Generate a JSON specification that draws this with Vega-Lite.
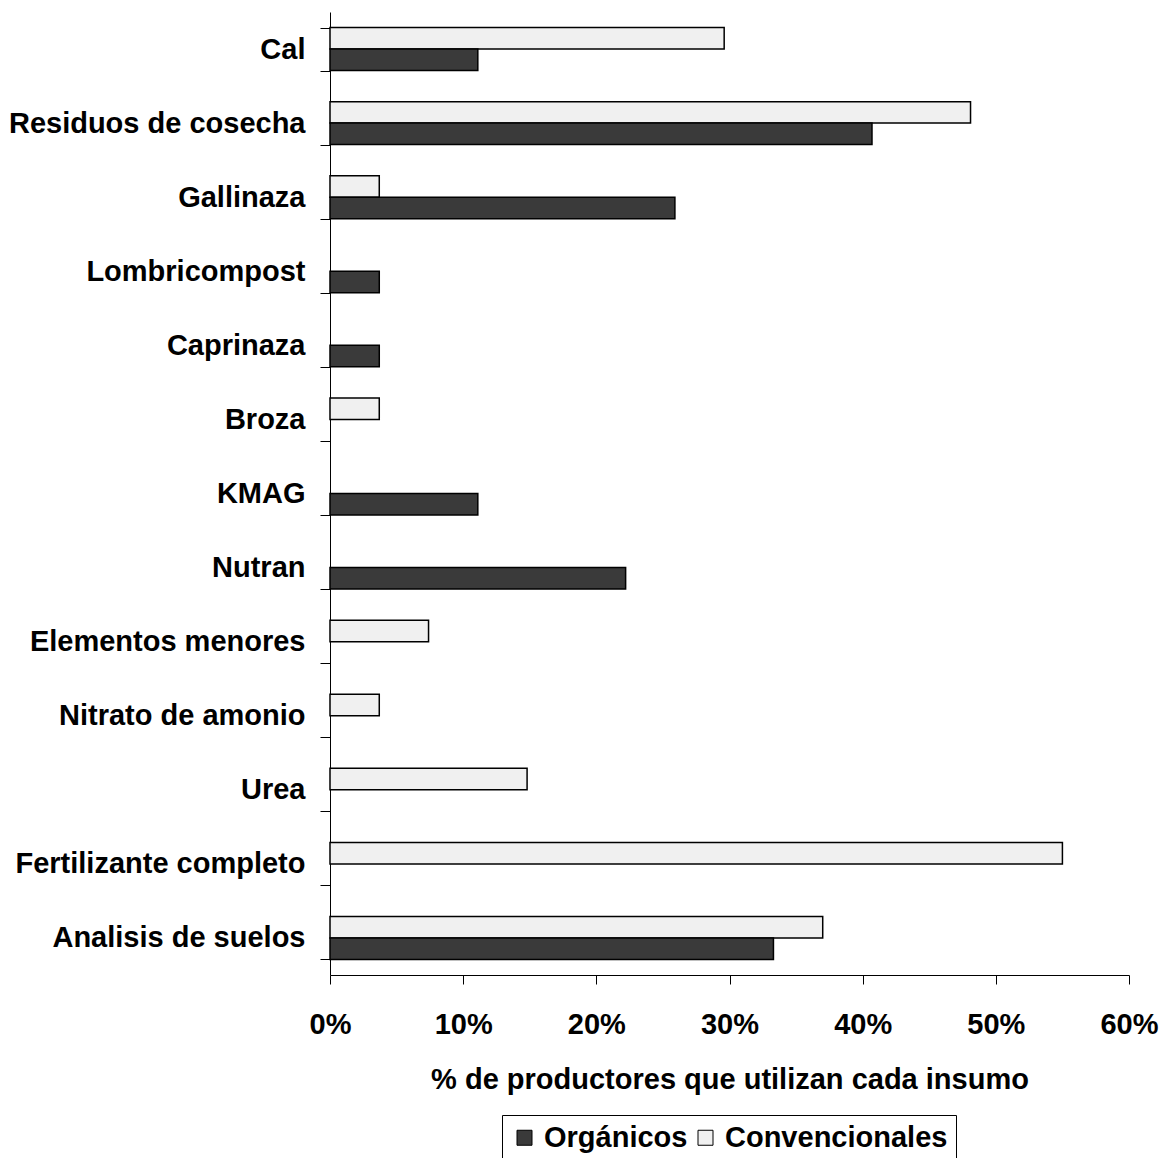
{
  "$schema": "https://vega.github.io/schema/vega-lite/v6.json",
  "width": 799,
  "height": 963,
  "autosize": {"type": "none"},
  "padding": {"left": 330, "top": 12, "right": 34, "bottom": 183},
  "background": "white",
  "config": {"view": {"stroke": null}, "font": "Liberation Sans"},
  "data": {
    "values": [
      {"insumo": "Cal", "tipo": "Convencionales", "valor": 0.296},
      {"insumo": "Cal", "tipo": "Orgánicos", "valor": 0.111},
      {"insumo": "Residuos de cosecha", "tipo": "Convencionales", "valor": 0.481},
      {"insumo": "Residuos de cosecha", "tipo": "Orgánicos", "valor": 0.407},
      {"insumo": "Gallinaza", "tipo": "Convencionales", "valor": 0.037},
      {"insumo": "Gallinaza", "tipo": "Orgánicos", "valor": 0.259},
      {"insumo": "Lombricompost", "tipo": "Orgánicos", "valor": 0.037},
      {"insumo": "Caprinaza", "tipo": "Orgánicos", "valor": 0.037},
      {"insumo": "Broza", "tipo": "Convencionales", "valor": 0.037},
      {"insumo": "KMAG", "tipo": "Orgánicos", "valor": 0.111},
      {"insumo": "Nutran", "tipo": "Orgánicos", "valor": 0.222},
      {"insumo": "Elementos menores", "tipo": "Convencionales", "valor": 0.074},
      {"insumo": "Nitrato de amonio", "tipo": "Convencionales", "valor": 0.037},
      {"insumo": "Urea", "tipo": "Convencionales", "valor": 0.148},
      {"insumo": "Fertilizante completo", "tipo": "Convencionales", "valor": 0.55},
      {"insumo": "Analisis de suelos", "tipo": "Convencionales", "valor": 0.37},
      {"insumo": "Analisis de suelos", "tipo": "Orgánicos", "valor": 0.333}
    ]
  },
  "mark": {"type": "bar", "stroke": "black", "strokeWidth": 1.5},
  "encoding": {
    "y": {
      "field": "insumo",
      "type": "nominal",
      "sort": ["Cal", "Residuos de cosecha", "Gallinaza", "Lombricompost", "Caprinaza", "Broza", "KMAG", "Nutran", "Elementos menores", "Nitrato de amonio", "Urea", "Fertilizante completo", "Analisis de suelos"],
      "scale": {"paddingInner": 0.42, "paddingOuter": 0.21},
      "axis": {
        "title": null,
        "labelFontSize": 29,
        "labelFontWeight": "bold",
        "labelColor": "black",
        "labelPadding": 15,
        "labelLimit": 400,
        "tickBand": "extent",
        "tickSize": 10,
        "tickColor": "black",
        "domainColor": "black",
        "grid": false
      }
    },
    "yOffset": {
      "field": "tipo",
      "type": "nominal",
      "scale": {"domain": ["Convencionales", "Orgánicos"], "paddingInner": 0, "paddingOuter": 0}
    },
    "x": {
      "field": "valor",
      "type": "quantitative",
      "scale": {"domain": [0, 0.6]},
      "axis": {
        "values": [0, 0.1, 0.2, 0.3, 0.4, 0.5, 0.6],
        "format": ".0%",
        "labelFontSize": 29,
        "labelFontWeight": "bold",
        "labelColor": "black",
        "labelFlush": false,
        "labelPadding": 26,
        "tickSize": 9,
        "tickColor": "black",
        "domainColor": "black",
        "grid": false,
        "title": "% de productores que utilizan cada insumo",
        "titleFontSize": 29,
        "titleFontWeight": "bold",
        "titleColor": "black",
        "titlePadding": 26
      }
    },
    "fill": {
      "field": "tipo",
      "type": "nominal",
      "scale": {"domain": ["Orgánicos", "Convencionales"], "range": ["#3a3a3a", "#f0f0f0"]},
      "legend": {
        "title": null,
        "orient": "none",
        "legendX": 172,
        "legendY": 1103,
        "direction": "horizontal",
        "strokeColor": "black",
        "padding": 8,
        "symbolType": "square",
        "symbolSize": 225,
        "symbolStrokeColor": "black",
        "symbolStrokeWidth": 1,
        "labelFontSize": 29,
        "labelFontWeight": "bold",
        "labelColor": "black",
        "labelOffset": 5,
        "columnPadding": 3,
        "labelLimit": 400
      }
    }
  }
}
